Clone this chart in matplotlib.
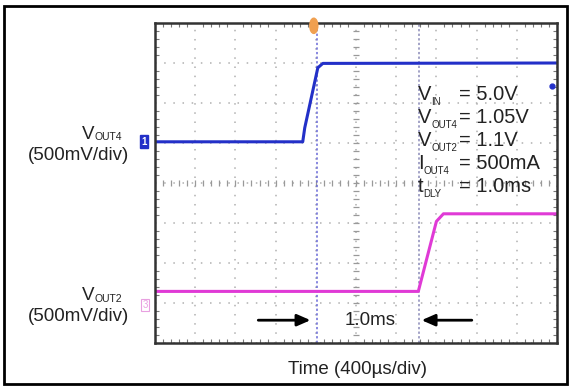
import matplotlib; matplotlib.use("Agg")
import matplotlib.pyplot as plt
import numpy as np
from matplotlib.patches import Rectangle, Ellipse

plt.rcParams["font.family"] = ["Liberation Sans", "DejaVu Sans"]

BLUE, MAGENTA, ORANGE, GRID, INK = "#2330c8", "#e03ad6", "#f0a050", "#b0b0b0", "#222222"

# scope traces: time (ms, 400us/div) and level (divisions from centre)
ch1_t = [0.0, 1.47, 1.49, 1.62, 1.67, 4.0]
ch1_v = [1.03, 1.03, 1.38, 2.88, 2.99, 3.0]
ch3_t = [0.0, 2.62, 2.80, 2.87, 4.0]
ch3_v = [-2.71, -2.71, -0.96, -0.77, -0.77]
cursor_t = [1.61, 2.63]
trigger_t = 1.58
ch1_level_t, ch1_level_v = 3.95, 2.43
info_sym = ["V", "V", "V", "I", "t"]
info_sub = ["IN", "OUT4", "OUT2", "OUT4", "DLY"]
info_val = ["= 5.0V", "= 1.05V", "= 1.1V", "= 500mA", "= 1.0ms"]

W, H = 571, 386
fig = plt.figure(figsize=(W/100, H/100), dpi=100)
px = lambda x, y: (x/W, 1 - y/H)
rend = fig.canvas.get_renderer()

def sub_text(x, y, main, sub, fs, sfs, dy, dx=0):
    t = fig.text(*px(x, y), main, fontsize=fs, va="baseline", color=INK)
    x1 = t.get_window_extent(rend).x1 + dx
    fig.text(x1/W, (H - y - dy)/H, sub, fontsize=sfs, va="baseline", color=INK)

fig.patches.append(Rectangle(px(4, 384), 563/W, 378/H, transform=fig.transFigure,
                             fill=False, ec="black", lw=2))
ax = fig.add_axes([155/W, 1-343/H, 402/W, 320/H])
ax.set_xlim(0, 4); ax.set_ylim(-4, 4)
ax.set_xticks(np.arange(0, 4.01, 0.4)); ax.set_yticks(np.arange(-4, 5, 1))
ax.set_xticks(np.arange(0, 4.01, 0.08), minor=True); ax.set_yticks(np.arange(-4, 4.01, 0.2), minor=True)
ax.tick_params(which="both", direction="in", top=True, right=True, labelbottom=False, labelleft=False,
               color="#777777")
ax.tick_params(which="major", length=0)
ax.tick_params(which="minor", length=3, width=0.8)
ax.grid(True, color=GRID, ls=(0, (1, 5)), lw=1.1)
for s in ax.spines.values():
    s.set_color("#333333"); s.set_linewidth(1.8)
# centre crosshair tick marks
ax.plot(np.arange(0, 4.01, 0.08), np.zeros(51), ls="none", marker="|", ms=4, color="#999999", mew=0.9)
ax.plot(np.full(41, 2.0), np.arange(-4, 4.01, 0.2), ls="none", marker="_", ms=4, color="#999999", mew=0.9)
# cursors
ax.axvline(cursor_t[0], color="#6a6ad8", ls=(0, (1.5, 1.5)), lw=1.1)
ax.axvline(cursor_t[1], color="#8a8ab8", ls=(0, (1.5, 1.5)), lw=1.1)
# traces
ax.plot(ch1_t, ch1_v, color=BLUE, lw=2.2, solid_joinstyle="round")
ax.plot(ch3_t, ch3_v, color=MAGENTA, lw=2.2, solid_joinstyle="round")
ax.plot(ch1_level_t, ch1_level_v, "o", color=BLUE, ms=3.5)
ax.add_patch(Ellipse((trigger_t, 3.93), 0.08, 0.38, color=ORANGE, clip_on=False, zorder=5))
# channel markers
ax.text(-0.11, 1.03, "1", ha="center", va="center", fontsize=7, color="white", fontweight="bold",
        bbox=dict(boxstyle="square,pad=0.15", fc=BLUE, ec=BLUE), clip_on=False)
ax.text(-0.10, -3.05, "3", ha="center", va="center", fontsize=7, color="#e8a0e0",
        bbox=dict(boxstyle="square,pad=0.15", fc="white", ec="#e8a0e0", lw=0.8), clip_on=False)
# delay arrows
ax.annotate("", xy=(1.575, -3.43), xytext=(1.0, -3.43),
            arrowprops=dict(arrowstyle="-|>,head_length=0.8,head_width=0.35", color="black", lw=2))
ax.annotate("", xy=(2.625, -3.43), xytext=(3.18, -3.43),
            arrowprops=dict(arrowstyle="-|>,head_length=0.8,head_width=0.35", color="black", lw=2))
ax.text(2.14, -3.43, "1.0ms", ha="center", va="center", fontsize=13.5, color=INK)

# labels
sub_text(82, 139, "V", "OUT4", 13.5, 7.5, 1)
fig.text(*px(129, 160), "(500mV/div)", fontsize=13.5, va="baseline", ha="right", color=INK)
sub_text(82, 300, "V", "OUT2", 13.5, 7.5, 2)
fig.text(*px(129, 321), "(500mV/div)", fontsize=13.5, va="baseline", ha="right", color=INK)
fig.text(*px(357, 370), "Time (400µs/div)", fontsize=13.5, ha="center", va="center", color=INK)
for i, (m, s, v) in enumerate(zip(info_sym, info_sub, info_val)):
    y = 100 + 23*i
    sub_text(418, y, m, s, 14.5, 7.0, 5, dx=0)
    fig.text(*px(459, y), v, fontsize=14.5, va="baseline", color=INK)

plt.savefig("out.png", dpi=100)
